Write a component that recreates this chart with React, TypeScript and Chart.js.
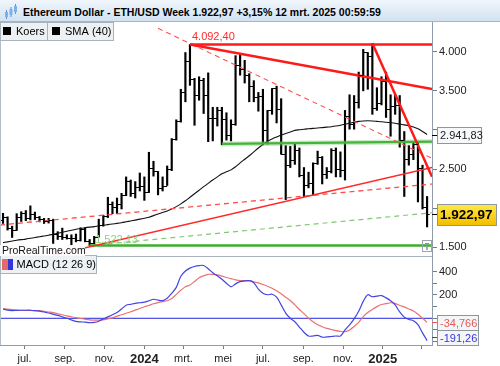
import React, { useEffect, useRef } from 'react';
import { Chart, registerables } from 'chart.js';

Chart.register(...registerables);

const FONT = '"Liberation Sans", Arial, Helvetica, sans-serif';
const TITLE = 'Ethereum Dollar - ETH/USD Week 1.922,97 +3,15% 12 mrt. 2025 00:59:59';

// Weekly bars, first week starts Mon 29 May 2023 (index 0), last week 10 Mar 2025 (index 93)
const START_DATE = Date.UTC(2023, 4, 29);
const opens = [1855, 1890, 1750, 1720, 1890, 1935, 1870, 1930, 1890, 1860, 1830, 1850, 1670, 1650, 1630, 1615, 1620, 1590, 1730, 1580,
  1555, 1630, 1780, 1895, 2050, 2010, 2060, 2170, 2350, 2200, 2270, 2280, 2210, 2510, 2470, 2260, 2290, 2500, 2880, 3110,
  3490, 3880, 3650, 3450, 3640, 3450, 3150, 3150, 3260, 3140, 2930, 3070, 3830, 3780, 3700, 3560, 3420, 3430, 3000, 3250,
  3530, 3270, 2690, 2550, 2610, 2750, 2430, 2300, 2320, 2580, 2650, 2440, 2470, 2740, 2500, 2490, 3180, 3080, 3360, 3700,
  4000, 3950, 3280, 3350, 3630, 3270, 3310, 3320, 2870, 2630, 2690, 2820, 2520, 2020];
const highs = [1935, 1890, 1770, 1930, 1955, 1970, 2030, 1950, 1895, 1870, 1870, 1860, 1700, 1745, 1660, 1660, 1670, 1750, 1750, 1600,
  1640, 1860, 1910, 2140, 2080, 2130, 2190, 2400, 2360, 2340, 2450, 2400, 2715, 2600, 2470, 2400, 2540, 2890, 3130, 3520,
  3990, 4092.4, 3660, 3680, 3660, 3730, 3290, 3290, 3290, 3220, 3130, 3950, 3970, 3890, 3720, 3630, 3480, 3520, 3250, 3530,
  3560, 3400, 2800, 2790, 2820, 2770, 2520, 2460, 2580, 2730, 2660, 2520, 2760, 2770, 2720, 3250, 3450, 3440, 3740, 4030,
  3990, 4107, 3540, 3680, 3740, 3450, 3450, 3440, 2980, 2800, 2850, 2850, 2550, 2150];
const lows = [1805, 1720, 1626, 1715, 1830, 1840, 1850, 1855, 1825, 1805, 1810, 1550, 1600, 1600, 1605, 1530, 1570, 1580, 1570, 1522,
  1540, 1630, 1770, 1880, 1930, 1930, 1990, 2160, 2150, 2130, 2220, 2100, 2200, 2410, 2170, 2220, 2290, 2480, 2870, 3100,
  3360, 3570, 3060, 3380, 3210, 2850, 2860, 3050, 2810, 2870, 2860, 3060, 3700, 3600, 3360, 3360, 3240, 2810, 2820, 3200,
  3090, 2690, 2110, 2520, 2560, 2400, 2150, 2260, 2170, 2560, 2310, 2380, 2450, 2400, 2400, 2360, 3010, 3010, 3280, 3500,
  3520, 3200, 3250, 3320, 3160, 2920, 3200, 2780, 2150, 2550, 2620, 2080, 1990, 1760];
const closes = [1890, 1750, 1720, 1890, 1935, 1870, 1930, 1890, 1860, 1830, 1850, 1670, 1650, 1630, 1615, 1620, 1590, 1730, 1580, 1555,
  1630, 1780, 1895, 2050, 2010, 2060, 2170, 2350, 2200, 2270, 2280, 2210, 2510, 2470, 2260, 2290, 2500, 2880, 3110, 3490,
  3880, 3650, 3450, 3640, 3450, 3150, 3150, 3260, 3140, 2930, 3070, 3830, 3780, 3700, 3560, 3420, 3430, 3000, 3250, 3530,
  3270, 2690, 2550, 2610, 2750, 2430, 2300, 2320, 2580, 2650, 2440, 2470, 2740, 2500, 2490, 3180, 3080, 3360, 3700, 4000,
  3950, 3280, 3350, 3630, 3270, 3310, 3320, 2870, 2630, 2690, 2820, 2520, 2020, 1922.97];

const sma40 = [1560, 1570, 1580, 1590, 1598, 1605, 1615, 1625, 1635, 1645, 1655, 1668, 1680, 1692, 1705, 1718, 1730, 1740, 1750, 1758,
  1765, 1774, 1782, 1790, 1798, 1806, 1815, 1826, 1837, 1848, 1860, 1872, 1885, 1905, 1925, 1945, 1965, 1990, 2020, 2055,
  2095, 2140, 2185, 2230, 2275, 2318, 2360, 2400, 2440, 2465, 2490, 2530, 2580, 2625, 2670, 2720, 2770, 2815, 2855, 2885,
  2910, 2935, 2955, 2975, 2995, 3003, 3010, 3015, 3020, 3025, 3030, 3036, 3042, 3050, 3060, 3072, 3085, 3098, 3110, 3115,
  3117, 3115, 3110, 3105, 3098, 3092, 3085, 3075, 3065, 3055, 3038, 3015, 2980, 2941.83];

const macdLine = [80, 70, 66, 68, 69, 69, 69, 66, 61, 54, 45, 35, 25, 12, 0, -14, -27, -31, -33, -38,
  -35, -25, -5, 12, 30, 50, 80, 112, 120, 128, 133, 138, 150, 163, 156, 152, 172, 215, 265, 360,
  405, 430, 444, 452, 453, 425, 390, 365, 335, 300, 270, 295, 314, 320, 323, 305, 250, 215, 202, 206,
  182, 115, 45, 0, -30, -75, -120, -152, -152, -146, -162, -160, -156, -152, -152, -100, -57, -5, 60, 145,
  202, 185, 190, 195, 175, 150, 115, 55, 10, -10, -21, -55, -125, -191.26];
const signalLine = [83, 78, 74, 71, 69, 68, 67, 66, 65, 60, 54, 48, 39, 30, 20, 13, 5, -2, -8, -13,
  -15, -15, -13, -5, 4, 18, 30, 43, 56, 70, 84, 99, 110, 125, 135, 143, 150, 170, 205, 240,
  270, 286, 315, 348, 365, 377, 376, 372, 362, 350, 340, 330, 323, 323, 323, 313, 303, 290, 275, 258,
  236, 210, 180, 152, 115, 75, 40, 0, -30, -55, -72, -86, -96, -106, -112, -115, -100, -70, -35, 15,
  50, 76, 100, 118, 126, 133, 128, 110, 98, 80, 63, 35, 0, -34.766];

const tickDates = ['2023-07-01', '2023-09-01', '2023-11-01', '2024-01-01', '2024-03-01', '2024-05-01',
  '2024-07-01', '2024-09-01', '2024-11-01', '2025-01-01', '2025-03-01'];
const tickLabels = ['jul.', 'sep.', 'nov.', '2024', 'mrt.', 'mei', 'jul.', 'sep.', 'nov.', '2025', ''];

const priceTicks = [1500, 2000, 2500, 3000, 3500, 4000];
const priceTickLabels = ['1.500', '', '2.500', '', '3.500', '4.000'];
const macdTicks = [-200, -100, 0, 100, 200, 300, 400];
const macdTickLabels = ['', '', '', '', '200', '', '400'];

const lastPrice = 1922.97;
const lastSma = 2941.83;
const lastSignal = -34.766;
const lastMacd = -191.26;
const peakHigh = 4092.4;
const supportLow = 1522.13;

// Drawn trend lines: [week index, price] anchor pairs
const resistanceTop = [[41, 4092.4], [94.08, 4092.4]];
const fallingFromPeak = [[41, 4092.4], [94.08, 3523]];
const dashedFalling = [[34, 4299], [94.08, 2638]];
const steepFalling = [[81, 4107], [94.08, 2402]];
const risingSupport = [[5, 1318], [94.08, 2522]];
const dashedRising = [[-0.66, 1785], [94.08, 2309]];
const greenFloor = [[19, 1522.13], [94.08, 1522.13]];
const greenDashed = [[19, 1522.13], [94.08, 1942]];
const greenMid = [[48, 2822], [94.08, 2850]];

const X_MIN = -0.66;
const X_MAX = 94.08;
const PRICE_MIN = 1389;
const PRICE_MAX = 4380;
const MACD_MIN = -229;
const MACD_MAX = 534;

const fmt = (v: number, dec: number) => {
  const s = Math.abs(v).toFixed(dec);
  const parts = s.split('.');
  const int = parts[0].replace(/\B(?=(\d{3})+(?!\d))/g, '.');
  return (v < 0 ? '-' : '') + int + (parts[1] ? ',' + parts[1] : '');
};

const weekPos = (d: string) => {
  const [y, m, day] = d.split('-').map(Number);
  return (Date.UTC(y, m - 1, day) - START_DATE) / (7 * 86400000);
};
const tickPositions = tickDates.map(weekPos);

const lineDs = (pts: number[][], color: string, width: number, dash: number[] = [], axis = 'y') => ({
  type: 'line' as const,
  data: pts.map(([x, y]) => ({ x, y })),
  borderColor: color,
  borderWidth: width,
  borderDash: dash,
  pointRadius: 0,
  fill: false,
  tension: 0,
  yAxisID: axis,
});

const zeroPad = (s: any) => {
  s.paddingTop = 0;
  s.paddingBottom = 0;
  s.paddingLeft = 0;
  s.paddingRight = 0;
};

const ohlcTicks = {
  id: 'ohlcTicks',
  afterDatasetsDraw(chart: any) {
    const ctx = chart.ctx;
    const xs = chart.scales.x;
    const ys = chart.scales.y;
    ctx.save();
    ctx.strokeStyle = '#000';
    ctx.lineWidth = 1;
    ctx.beginPath();
    for (let i = 0; i < opens.length; i++) {
      const px = xs.getPixelForValue(i);
      const yo = Math.round(ys.getPixelForValue(opens[i])) + 0.5;
      const yc = Math.round(ys.getPixelForValue(closes[i])) + 0.5;
      ctx.moveTo(px - 2.6, yo);
      ctx.lineTo(px, yo);
      ctx.moveTo(px, yc);
      ctx.lineTo(px + 2.6, yc);
    }
    ctx.stroke();
    ctx.restore();
  },
};

const overlay = {
  id: 'overlay',
  afterDraw(chart: any) {
    const ctx = chart.ctx;
    const xs = chart.scales.x;
    const ys = chart.scales.y;
    const ys2 = chart.scales.y2;
    const ca = chart.chartArea;
    ctx.save();
    const seg = (x0: number, y0: number, x1: number, y1: number, color: string, w = 1) => {
      ctx.beginPath();
      ctx.strokeStyle = color;
      ctx.lineWidth = w;
      ctx.moveTo(x0, y0);
      ctx.lineTo(x1, y1);
      ctx.stroke();
    };
    const sepY = Math.round(ys.bottom) + 0.5;
    seg(0, sepY, ca.right, sepY, '#a9b4be');
    seg(0.5, 0, 0.5, ca.bottom, '#b4bec8');

    // legend boxes
    const box = (x: number, y: number, w: number, h: number) => {
      ctx.fillStyle = '#eef1f4';
      ctx.fillRect(x, y, w, h);
      ctx.strokeStyle = '#a9b3bd';
      ctx.lineWidth = 1;
      ctx.strokeRect(x + 0.5, y + 0.5, w - 1, h - 1);
    };
    ctx.font = `11px ${FONT}`;
    ctx.textBaseline = 'middle';
    ctx.textAlign = 'left';
    box(0, 0, 48, 19);
    box(47, 0, 67, 19);
    ctx.fillStyle = '#000';
    ctx.fillRect(3, 5, 8, 8);
    ctx.fillRect(52, 5, 8, 8);
    ctx.fillText('Koers', 16, 10);
    ctx.fillText('SMA (40)', 65, 10);

    const mTop = Math.round(ys2.top) - 1;
    box(0, mTop, 97, 19);
    ctx.fillStyle = '#e46a6a';
    ctx.fillRect(2, mTop + 4, 6, 11);
    ctx.fillStyle = '#3333e0';
    ctx.fillRect(8, mTop + 4, 5, 11);
    ctx.fillStyle = '#000';
    ctx.fillText('MACD (12 26 9)', 16.5, mTop + 10);

    // ProRealTime box
    const pb = Math.round(ys.bottom);
    ctx.fillStyle = 'rgba(255,255,255,0.9)';
    ctx.fillRect(0, pb - 11, 85, 11);
    ctx.fillStyle = '#111';
    ctx.font = `10.5px ${FONT}`;
    ctx.fillText('ProRealTime.com', 2, pb - 5);

    // peak and support labels
    ctx.font = `11px ${FONT}`;
    ctx.textBaseline = 'alphabetic';
    ctx.fillStyle = '#ff2a2a';
    ctx.fillText(fmt(peakHigh, 2), xs.getPixelForValue(41) + 2, ys.getPixelForValue(peakHigh) - 4.5);
    ctx.fillStyle = '#8fd17f';
    ctx.fillText(fmt(supportLow, 2), xs.getPixelForValue(19) + 5.5, ys.getPixelForValue(supportLow) - 3);

    // small icon
    const iy = pb - 16;
    ctx.strokeStyle = '#9aa4ae';
    ctx.lineWidth = 1;
    ctx.strokeRect(422.5, iy + 0.5, 9, 11);
    seg(427, iy + 3, 427, iy + 10, '#8a949e', 1.5);
    seg(425, iy + 3.5, 429, iy + 3.5, '#8a949e', 1);

    // value boxes on the right axis
    const valueBox = (yc: number, w: number, h: number, text: string, bg: any, textColor: string, font: string, tickColor: string) => {
      const x0 = 437.5;
      const top = Math.round(yc - h / 2) + 0.5;
      seg(432, Math.round(yc) + 0.5, 438, Math.round(yc) + 0.5, tickColor, 1);
      ctx.fillStyle = bg;
      ctx.fillRect(x0, top, w, h);
      ctx.strokeStyle = '#8e969e';
      ctx.lineWidth = 1;
      ctx.strokeRect(x0, top, w, h);
      ctx.fillStyle = textColor;
      ctx.font = font;
      ctx.textBaseline = 'middle';
      ctx.textAlign = 'left';
      ctx.fillText(text, x0 + 2.5, top + h / 2 + 0.5);
    };
    valueBox(ys.getPixelForValue(lastSma), 44, 16, fmt(lastSma, 2), '#f7f8f9', '#222', `11px ${FONT}`, '#000');
    const yp = ys.getPixelForValue(lastPrice);
    const grad = ctx.createLinearGradient(0, yp - 10, 0, yp + 10);
    grad.addColorStop(0, '#ffe94a');
    grad.addColorStop(1, '#f4c000');
    valueBox(yp, 59, 21, fmt(lastPrice, 2), grad, '#000', `bold 13.5px ${FONT}`, '#000');
    valueBox(ys2.getPixelForValue(lastSignal), 41, 15, fmt(lastSignal, 3), '#f4f5f6', '#e05a5a', `11px ${FONT}`, '#e05a5a');
    const ym = Math.min(ys2.getPixelForValue(lastMacd), ys2.bottom - 8);
    valueBox(ym, 41, 15, fmt(lastMacd, 2), '#f4f5f6', '#3636dd', `11px ${FONT}`, '#3636dd');
    ctx.restore();
  },
};

export default function App() {
  const ref = useRef<HTMLCanvasElement>(null);
  useEffect(() => {
    const canvas = ref.current;
    if (!canvas) return;
    const axisColor = '#8e9cab';
    const tickFont = { family: FONT, size: 11 };
    const chart = new Chart(canvas, {
      type: 'line',
      data: {
        datasets: [
          lineDs(steepFalling, '#ff1a1a', 2.5),
          lineDs(resistanceTop, '#ff1a1a', 2.5),
          lineDs(fallingFromPeak, '#ff1a1a', 2.5),
          lineDs(dashedFalling, '#ff4d4d', 1.1, [5, 4]),
          lineDs(risingSupport, '#ff2a2a', 1.5),
          lineDs(dashedRising, '#ff4d4d', 1.3, [5, 4]),
          lineDs(greenFloor, '#3cae2e', 2.5),
          lineDs(greenDashed, '#80c873', 1.2, [5, 4]),
          lineDs(greenMid, '#45b23a', 2.2),
          lineDs(greenMid, 'rgba(110,195,100,0.35)', 5),
          {
            type: 'line' as const,
            data: sma40.map((v, i) => ({ x: i, y: v })),
            borderColor: '#111',
            borderWidth: 1.1,
            pointRadius: 0,
            tension: 0.3,
            yAxisID: 'y',
          },
          {
            type: 'bar' as const,
            data: highs.map((h, i) => ({ x: i, y: [lows[i], h] })),
            backgroundColor: '#000',
            barThickness: 1.5,
            yAxisID: 'y',
          },
          {
            type: 'line' as const,
            data: macdLine.map((v, i) => ({ x: i, y: v })),
            borderColor: '#4343e6',
            borderWidth: 1.2,
            pointRadius: 0,
            tension: 0.3,
            yAxisID: 'y2',
          },
          {
            type: 'line' as const,
            data: signalLine.map((v, i) => ({ x: i, y: v })),
            borderColor: '#e97272',
            borderWidth: 1.2,
            pointRadius: 0,
            tension: 0.3,
            yAxisID: 'y2',
          },
          lineDs([[X_MIN, 0], [X_MAX, 0]], '#2323dc', 1, [], 'y2'),
        ] as any,
      },
      options: {
        responsive: false,
        animation: false,
        layout: { padding: 0 },
        plugins: { legend: { display: false }, tooltip: { enabled: false } },
        scales: {
          x: {
            type: 'linear',
            position: 'bottom',
            offset: false,
            min: X_MIN,
            max: X_MAX,
            afterBuildTicks: (s: any) => {
              s.ticks = tickPositions.map((v) => ({ value: v }));
            },
            afterFit: (s: any) => {
              s.height = 21;
              zeroPad(s);
            },
            ticks: {
              autoSkip: false,
              maxRotation: 0,
              padding: 3,
              color: '#222',
              font: (c: any) => {
                const lbl = c.tick ? tickLabels[tickPositions.indexOf(c.tick.value)] : '';
                return /^\d{4}$/.test(lbl || '') ? { family: FONT, size: 13, weight: 'bold' } : tickFont;
              },
              callback: (v: any) => {
                const idx = tickPositions.findIndex((p) => Math.abs(p - v) < 1e-6);
                return idx >= 0 ? tickLabels[idx] : '';
              },
            },
            grid: { offset: false, drawOnChartArea: false, drawTicks: true, tickLength: 4, color: '#6f7c89' },
            border: { display: true, color: axisColor },
          },
          y: {
            type: 'linear',
            position: 'right',
            stack: 'panels',
            stackWeight: 234,
            min: PRICE_MIN,
            max: PRICE_MAX,
            afterBuildTicks: (s: any) => {
              s.ticks = priceTicks.map((v) => ({ value: v }));
            },
            afterFit: (s: any) => {
              s.width = 68;
              zeroPad(s);
            },
            ticks: {
              autoSkip: false,
              padding: 2,
              color: '#222',
              font: tickFont,
              callback: (v: any) => priceTickLabels[priceTicks.indexOf(v)] ?? '',
            },
            grid: { drawOnChartArea: false, drawTicks: true, tickLength: 5, color: '#6f7c89' },
            border: { display: true, color: axisColor },
          },
          y2: {
            type: 'linear',
            position: 'right',
            stack: 'panels',
            stackWeight: 89,
            min: MACD_MIN,
            max: MACD_MAX,
            afterBuildTicks: (s: any) => {
              s.ticks = macdTicks.map((v) => ({ value: v }));
            },
            afterFit: (s: any) => {
              s.width = 68;
              zeroPad(s);
            },
            ticks: {
              autoSkip: false,
              padding: 2,
              color: '#222',
              font: tickFont,
              callback: (v: any) => macdTickLabels[macdTicks.indexOf(v)] ?? '',
            },
            grid: { drawOnChartArea: false, drawTicks: true, tickLength: 5, color: '#6f7c89' },
            border: { display: true, color: axisColor },
          },
        },
      } as any,
      plugins: [ohlcTicks, overlay],
    });
    return () => chart.destroy();
  }, []);

  return (
    <div style={{ position: 'absolute', left: 0, top: 0, width: 500, height: 366, background: '#fff', overflow: 'hidden' }}>
      <div
        style={{
          position: 'absolute', left: 0, top: 0, width: 500, height: 21,
          borderBottom: '1px solid #a3b6c9',
          background: 'linear-gradient(#f0f6fb, #d2e2f1)',
        }}
      >
        <svg width="14" height="16" viewBox="0 0 14 16" style={{ position: 'absolute', left: 4, top: 4 }}>
          <line x1="2.5" y1="6" x2="2.5" y2="15" stroke="#5a92d8" strokeWidth="1" />
          <rect x="1" y="8" width="3" height="5" fill="#7fb0ea" />
          <line x1="7" y1="3" x2="7" y2="13" stroke="#5a92d8" strokeWidth="1" />
          <rect x="5.5" y="5" width="3" height="6" fill="#7fb0ea" />
          <line x1="11.5" y1="0" x2="11.5" y2="10" stroke="#5a92d8" strokeWidth="1" />
          <rect x="10" y="2" width="3" height="6" fill="#7fb0ea" />
        </svg>
        <span
          style={{
            position: 'absolute', left: 23, top: 6, lineHeight: '12px', whiteSpace: 'nowrap',
            font: `bold 10.5px ${FONT}`, color: '#000',
          }}
        >
          {TITLE}
        </span>
      </div>
      <canvas ref={ref} width={500} height={344} style={{ position: 'absolute', left: 0, top: 22, width: 500, height: 344 }} />
    </div>
  );
}
